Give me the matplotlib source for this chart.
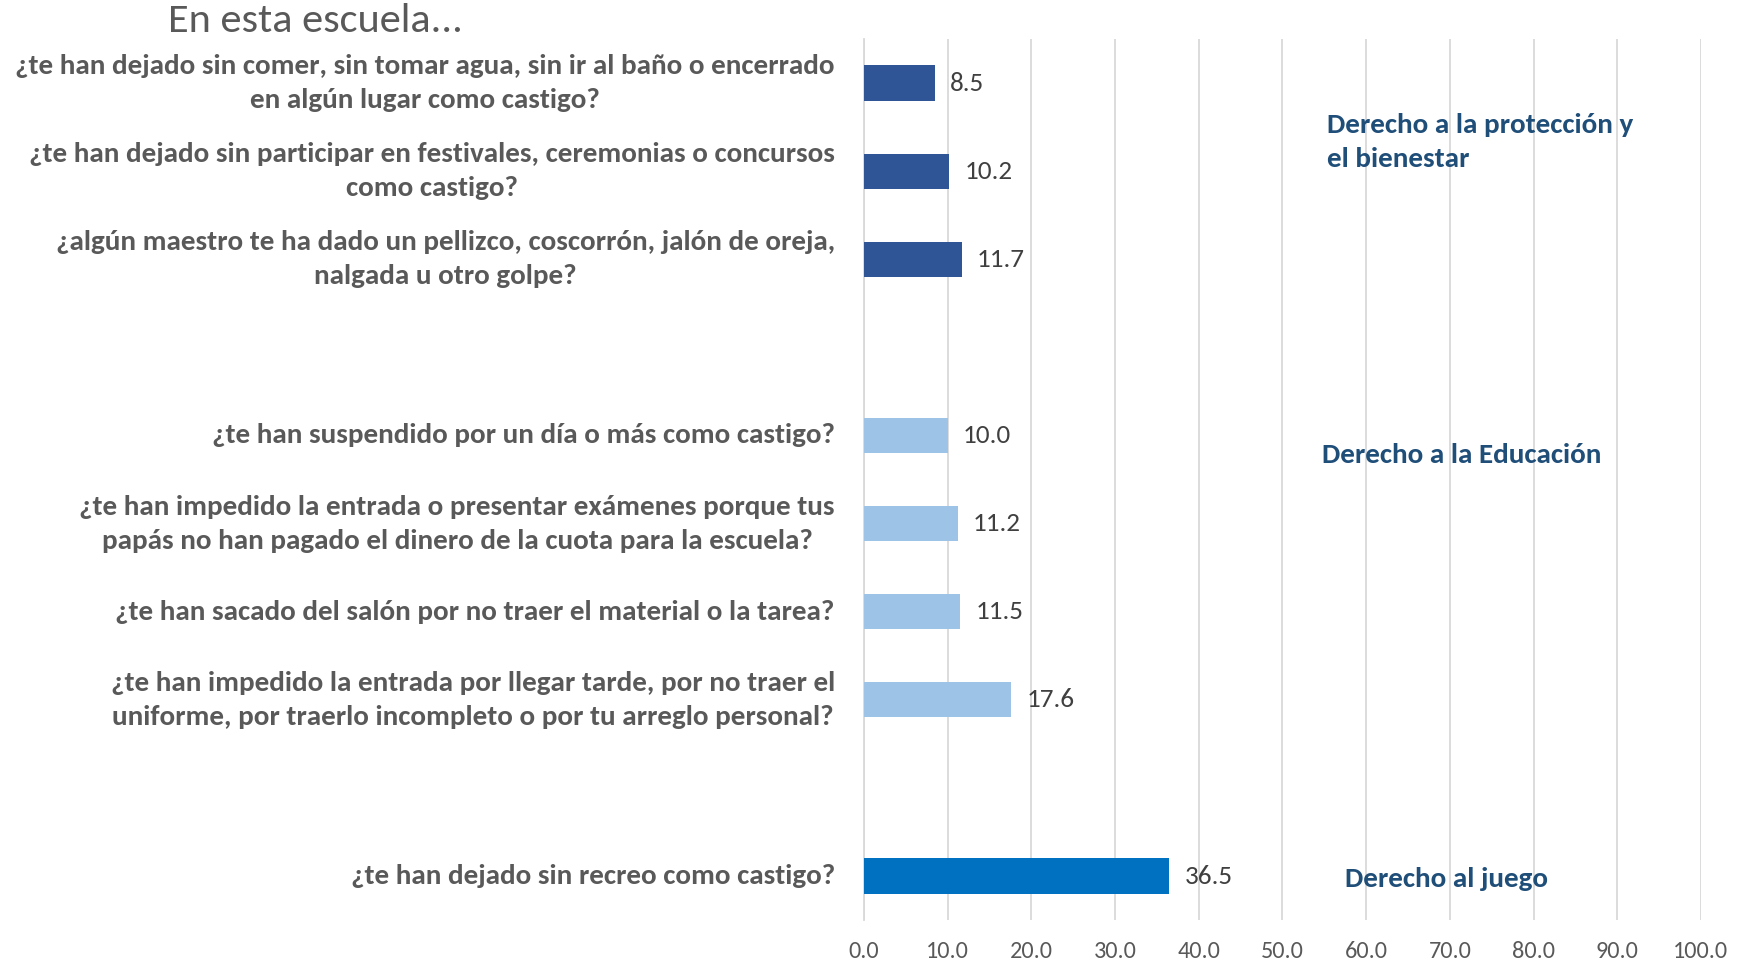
import numpy as np
import matplotlib
matplotlib.use("Agg")
import matplotlib.pyplot as plt
from matplotlib import font_manager

names = {f.name for f in font_manager.fontManager.ttflist}
FONT = next((f for f in ["Carlito", "Liberation Sans Narrow", "Archivo Narrow", "Open Sans"]
             if f in names), "DejaVu Sans")
plt.rcParams['font.family'] = [FONT, 'DejaVu Sans']

title = "En esta escuela..."

# one row per slot, top to bottom; empty rows are the gaps between groups
questions = [
    "¿te han dejado sin comer, sin tomar agua, sin ir al baño o encerrado\nen algún lugar como castigo?",
    "¿te han dejado sin participar en festivales, ceremonias o concursos\ncomo castigo?",
    "¿algún maestro te ha dado un pellizco, coscorrón, jalón de oreja,\nnalgada u otro golpe?",
    "",
    "¿te han suspendido por un día o más como castigo?",
    "¿te han impedido la entrada o presentar exámenes porque tus\npapás no han pagado el dinero de la cuota para la escuela?",
    "¿te han sacado del salón por no traer el material o la tarea?",
    "¿te han impedido la entrada por llegar tarde, por no traer el\nuniforme, por traerlo incompleto o por tu arreglo personal?",
    "",
    "¿te han dejado sin recreo como castigo?",
]
values = [8.5, 10.2, 11.7, np.nan, 10.0, 11.2, 11.5, 17.6, np.nan, 36.5]
groups = ["prot", "prot", "prot", "", "edu", "edu", "edu", "edu", "", "juego"]

group_names = {
    "prot": "Derecho a la protección y\nel bienestar",
    "edu": "Derecho a la Educación",
    "juego": "Derecho al juego",
}
group_colors = {"prot": "#2F5597", "edu": "#9DC3E6", "juego": "#0070C0", "": "none"}

xticks = np.arange(0, 101, 10)

fig = plt.figure(figsize=(17.44, 9.61), dpi=100)
ax = fig.add_axes([0.4954, 0.0426, 0.4799, 0.9168])

y = np.arange(len(values))
colors = [group_colors[g] for g in groups]
ax.barh(y, np.nan_to_num(values), height=0.4, color=colors, zorder=3)

for yi, v in zip(y, values):
    if not np.isnan(v):
        ax.text(v + 1.8, yi, f"{v:.1f}", va='center', ha='left',
                fontsize=19.5, color='#404040')

ax.set_xlim(0, 100)
ax.set_ylim(len(values) - 0.5, -0.5)
ax.set_xticks(xticks)
ax.set_xticklabels([f"{t:.1f}" for t in xticks], fontsize=17.5, color='#595959')
ax.set_yticks(y)
ax.set_yticklabels(questions, fontsize=21, fontweight='bold', color='#595959',
                   multialignment='center', linespacing=1.5)
for lab in ax.get_yticklabels():
    lab.set_va('center')
ax.tick_params(axis='both', length=0)
ax.tick_params(axis='y', pad=21)
ax.tick_params(axis='x', pad=15)
ax.grid(axis='x', color='#D9D9D9', linewidth=1.3, zorder=0)
for s in ['top', 'right', 'bottom']:
    ax.spines[s].set_visible(False)
ax.spines['left'].set_color('#D9D9D9')
ax.spines['left'].set_linewidth(1.3)

# group labels at the right side
label_pos = {"prot": (55.3, 0.67), "edu": (54.7, 4.22), "juego": (57.5, 9.03)}
for g, (gx, gy) in label_pos.items():
    ax.text(gx, gy, group_names[g], ha='left', va='center', fontsize=21,
            fontweight='bold', color='#1F4E79', linespacing=1.5)

fig.text(0.181, 0.978, title, ha='center', va='center', fontsize=30.5, color='#595959')

fig.savefig("out.png", dpi=100)
